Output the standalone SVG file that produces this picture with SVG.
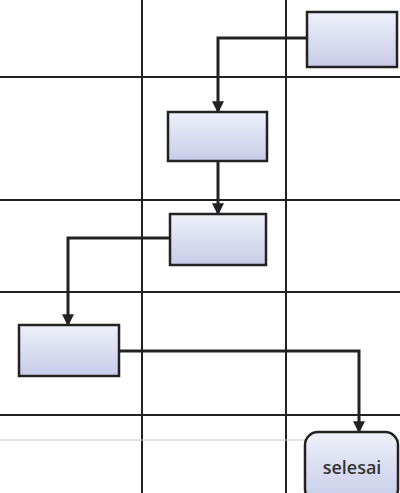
<svg xmlns="http://www.w3.org/2000/svg" width="400" height="493" viewBox="0 0 400 493">
<defs>
<linearGradient id="g" x1="0" y1="0" x2="0" y2="1">
<stop offset="0" stop-color="#eef0f9"/>
<stop offset="1" stop-color="#c7cbe8"/>
</linearGradient>
<marker id="arr" viewBox="0 0 10 10" refX="9" refY="5" markerWidth="4" markerHeight="4" orient="auto" markerUnits="strokeWidth">
<path d="M0,0 L10,5 L0,10 z" fill="#222"/>
</marker>
<style>
.grid{stroke:#222;stroke-width:2;fill:none}
.faint{stroke:#ccc;stroke-width:1;fill:none}
.box{fill:url(#g);stroke:#222;stroke-width:2.5}
.con{stroke:#222;stroke-width:3;fill:none;marker-end:url(#arr)}
.lbl{font-family:"Open Sans","Liberation Sans",Arial,sans-serif;font-size:18px;font-weight:600;fill:#333}
</style>
</defs>
<rect width="400" height="493" fill="#fff"/>
<g id="grid">
<line class="grid" x1="142" y1="0" x2="142" y2="493"/>
<line class="grid" x1="286" y1="0" x2="286" y2="493"/>
<line class="grid" x1="0" y1="77" x2="400" y2="77"/>
<line class="grid" x1="0" y1="200" x2="400" y2="200"/>
<line class="grid" x1="0" y1="292" x2="400" y2="292"/>
<line class="grid" x1="0" y1="415" x2="400" y2="415"/>
<line class="faint" x1="0" y1="440" x2="400" y2="440"/>
</g>
<g id="connectors">
<polyline class="con" points="307,38 218,38 218,112"/>
<polyline class="con" points="218,161 218,214"/>
<polyline class="con" points="170,238 68,238 68,325"/>
<polyline class="con" points="119,351 359,351 359,432"/>
</g>
<g id="node1"><rect class="box" x="307" y="12" width="90" height="55"/></g>
<g id="node2"><rect class="box" x="168" y="112" width="99" height="49"/></g>
<g id="node3"><rect class="box" x="170" y="214" width="96" height="51"/></g>
<g id="node4"><rect class="box" x="19" y="325" width="100" height="51"/></g>
<g id="selesai"><rect class="box" x="305" y="432" width="93" height="70" rx="13" ry="13"/>
<text class="lbl" x="352" y="474" text-anchor="middle">selesai</text></g>
</svg>
